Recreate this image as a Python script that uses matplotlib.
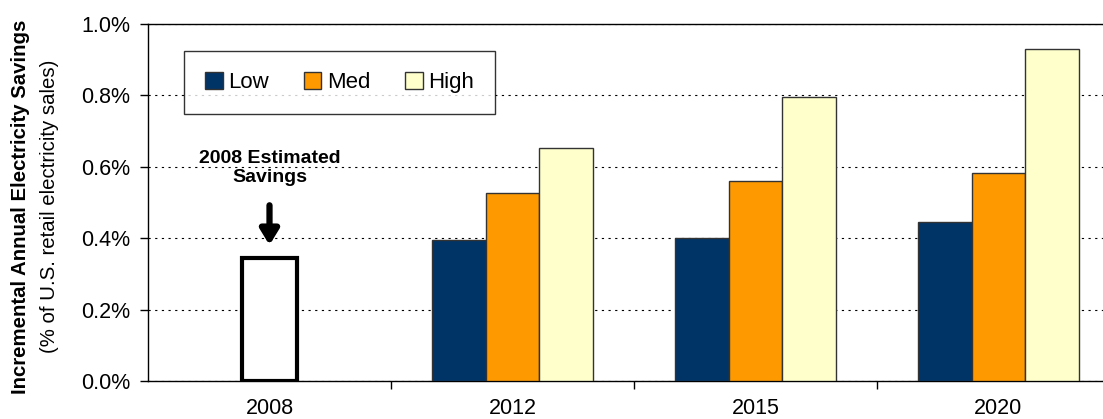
import numpy as np
import matplotlib
matplotlib.use("Agg")
import matplotlib.pyplot as plt
from matplotlib.ticker import FixedLocator, FuncFormatter

plt.rcParams['font.family'] = ['Liberation Sans', 'DejaVu Sans']

years = ['2008', '2012', '2015', '2020']
est_2008 = 0.345
low = [0.395, 0.40, 0.445]
med = [0.527, 0.56, 0.583]
high = [0.653, 0.795, 0.93]
series_names = ['Low', 'Med', 'High']
series_colors = ['#003366', '#FF9900', '#FFFFCC']

fig = plt.figure(figsize=(11.03, 4.19), dpi=100)
ax = fig.add_axes([148 / 1103, 1 - 381 / 419, (1120 - 148) / 1103, (381 - 24) / 419])

x = np.arange(len(years))
w = 0.222
proj_x = x[1:]
for i, (vals, name, col) in enumerate(zip([low, med, high], series_names, series_colors)):
    ax.bar(proj_x + (i - 1) * w, vals, w, color=col, edgecolor='#333333',
           linewidth=1.0, label=name, zorder=3)

ax.bar(x[0], est_2008, 0.225, color='white', edgecolor='black', linewidth=3, zorder=3)

ax.annotate('', xy=(x[0], est_2008 + 0.028), xytext=(x[0], est_2008 + 0.155),
            arrowprops=dict(arrowstyle='-|>,head_width=0.55,head_length=0.9',
                            color='black', lw=4.5), zorder=4)
ax.text(x[0], 0.597, '2008 Estimated\nSavings', ha='center', va='center',
        fontsize=14, fontweight='bold', linespacing=1.15)

ax.set_xlim(-0.5, len(years) - 0.5)
ax.set_ylim(0, 1.0)
ax.set_yticks(np.arange(0, 1.01, 0.2))
ax.yaxis.set_major_formatter(FuncFormatter(lambda v, p: f'{v:.1f}%'))
ax.yaxis.grid(True, linestyle=(0, (2, 4)), color='black', linewidth=0.8, zorder=0)
ax.set_axisbelow(True)

ax.set_xticks(x)
ax.set_xticklabels(years)
ax.tick_params(axis='x', length=0, pad=12, labelsize=15.5)
ax.xaxis.set_minor_locator(FixedLocator(x[:-1] + 0.5))
ax.tick_params(axis='x', which='minor', length=6, width=1, direction='out')
ax.tick_params(axis='y', length=6, width=1, direction='out', labelsize=15.5, pad=7)

for s in ['left', 'bottom', 'top']:
    ax.spines[s].set_linewidth(1.0)
ax.spines['right'].set_visible(False)

leg = ax.legend(loc='upper left', bbox_to_anchor=(36 / 972, 1 - 27 / 357), ncol=3,
                frameon=True, fancybox=False, edgecolor='black', fontsize=16,
                handlelength=0.8, handleheight=0.8, columnspacing=1.55,
                handletextpad=0.25, borderpad=0.95, borderaxespad=0)
leg.get_frame().set_linewidth(1.0)

fig.text(21 / 1103, 0.507, 'Incremental Annual Electricity Savings',
         rotation=90, ha='center', va='center', fontsize=14.7, fontweight='bold')
fig.text(50 / 1103, 0.507, '(% of U.S. retail electricity sales)',
         rotation=90, ha='center', va='center', fontsize=14.7)

fig.savefig('out.png', dpi=100)
